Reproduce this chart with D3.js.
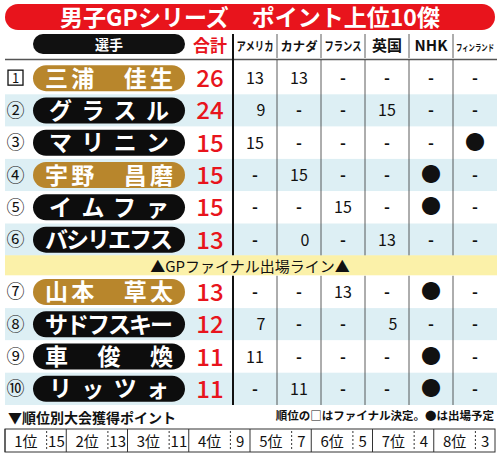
<!DOCTYPE html>
<html><head><meta charset="utf-8">
<script src="https://cdn.jsdelivr.net/npm/d3@7"></script>
<style>body{margin:0;background:#fff}svg{display:block;font-family:"Noto Sans CJK JP","Noto Sans",sans-serif}</style>
</head><body><svg id="c" width="500" height="456"></svg>
<script>
const title = "男子GPシリーズ　ポイント上位10傑";
const events = ["アメリカ","カナダ","フランス","英国","NHK","フィンランド"];
const ranks = ["1","②","③","④","⑤","⑥","⑦","⑧","⑨","⑩"];
const names = ["三浦　佳生","グラスル","マリニン","宇野　昌磨","イムファ","バシリエフス","山本　草太","サドフスキー","車　俊　煥","リッツォ"];
const totals = [26,24,15,15,15,13,13,12,11,11];
const japanese = [true,false,false,true,false,false,true,false,false,false];
const points = [
  ["13","13","-","-","-","-"],
  ["9","-","-","15","-","-"],
  ["15","-","-","-","-","●"],
  ["-","15","-","-","●","-"],
  ["-","-","15","-","●","-"],
  ["-","0","-","13","-","-"],
  ["-","-","13","-","●","-"],
  ["7","-","-","5","-","-"],
  ["11","-","-","-","●","-"],
  ["-","11","-","-","●","-"]
];
const placeLabels = ["1位","2位","3位","4位","5位","6位","7位","8位"];
const placePoints = [15,13,11,9,7,5,4,3];

const svg = d3.select("#c");
const rowH = 32.3;
const rowY = i => 62 + i*rowH + (i>=6 ? 20 : 0);
const x = d3.scaleBand().domain(events).range([233,497]);

svg.append("rect").attr("x",5).attr("y",4).attr("width",490).attr("height",26).attr("rx",13).attr("fill","#e8141c");
svg.append("text").attr("x",250).attr("y",26).attr("text-anchor","middle").attr("font-size",23).attr("font-weight","bold").attr("fill","#fff").text(title);

svg.append("rect").attr("x",33).attr("y",34).attr("width",152).attr("height",20).attr("rx",10).attr("fill","#111");
svg.append("text").attr("x",109).attr("y",50).attr("text-anchor","middle").attr("font-size",14).attr("font-weight","bold").attr("fill","#fff").text("選手");
svg.append("text").attr("x",210).attr("y",52).attr("text-anchor","middle").attr("font-size",17).attr("font-weight","bold").attr("fill","#e8141c").text("合計");
svg.selectAll(".eh").data(events).join("text")
  .attr("x",d=>x(d)+x.bandwidth()/2).attr("y",51).attr("text-anchor","middle")
  .attr("font-weight","bold").attr("fill","#111")
  .attr("font-size",d=>d==="フィンランド"?9:(d==="NHK"||d==="英国"?15:12))
  .attr("textLength",d=>d==="英国"||d==="NHK"?null:(d==="フィンランド"?38:37)).attr("lengthAdjust","spacingAndGlyphs")
  .text(d=>d);
svg.append("line").attr("x1",5).attr("x2",497).attr("y1",59.5).attr("y2",59.5).attr("stroke","#555").attr("stroke-width",1.5);

svg.selectAll(".bg").data(names).join("rect")
  .attr("x",5).attr("width",492).attr("y",(d,i)=>rowY(i)).attr("height",rowH)
  .attr("fill",(d,i)=>i%2===1?"#ddeff4":"#fff");
svg.append("rect").attr("x",5).attr("width",492).attr("y",rowY(6)-20.5).attr("height",20).attr("fill","#fbf1a9");
svg.append("text").attr("x",250).attr("y",rowY(6)-4).attr("text-anchor","middle").attr("font-size",15).attr("fill","#111").text("▲GPファイナル出場ライン▲");

events.slice(1).forEach(e=>{
  [[34,58],[60,rowY(6)-20.5],[rowY(6),rowY(9)+rowH]].forEach(([a,b])=>
   svg.append("line").attr("x1",x(e)).attr("x2",x(e)).attr("y1",a).attr("y2",b).attr("stroke","#333").attr("stroke-width",0.8));
});
[[34,rowY(6)-20.5],[rowY(6),rowY(9)+rowH]].forEach(([a,b])=>
  svg.append("line").attr("x1",233).attr("x2",233).attr("y1",a).attr("y2",b).attr("stroke","#111").attr("stroke-width",2));

const rows = svg.selectAll(".row").data(names).join("g").attr("transform",(d,i)=>`translate(0,${rowY(i)+rowH/2})`);
rows.each(function(d,i){
  const g = d3.select(this);
  if(i===0){
    g.append("rect").attr("x",8).attr("y",-8).attr("width",15).attr("height",15).attr("fill","none").attr("stroke","#111").attr("stroke-width",1.3);
    g.append("text").attr("x",15.5).attr("y",5).attr("text-anchor","middle").attr("font-size",13).attr("fill","#111").text(ranks[i]);
  } else {
    g.append("text").attr("x",15.5).attr("y",6.5).attr("text-anchor","middle").attr("font-size",18).attr("fill","#111").text(ranks[i]);
  }
  g.append("rect").attr("x",33).attr("y",-13).attr("width",152).attr("height",26).attr("rx",13).attr("fill",japanese[i]?"#b8862c":"#0d0d0d");
  g.append("text").attr("x",109).attr("y",8.5).attr("text-anchor","middle").attr("font-size",23).attr("font-weight","bold").attr("fill","#fff")
    .attr("textLength",d.length>=5?128:120).attr("lengthAdjust","spacing").text(d);
  g.append("text").attr("x",210).attr("y",9).attr("text-anchor","middle").attr("font-size",24).attr("font-weight","500").attr("fill","#e8141c").text(totals[i]);
  g.selectAll(".p").data(points[i]).join("text")
    .attr("x",(v,j)=>x(events[j])+x.bandwidth()/2+ (v.length===1&&v!=="●"&&v!=="-"?6:0)).attr("y",(v)=>v==="●"?7:6)
    .attr("text-anchor","middle").attr("font-size",v=>v==="●"?20:16).attr("font-weight",v=>v==="-"?"bold":"normal").attr("fill","#111").text(v=>v);
});

svg.append("text").attr("x",8).attr("y",423).attr("font-size",14).attr("font-weight","bold").attr("fill","#111").text("▼順位別大会獲得ポイント");
svg.append("text").attr("x",494).attr("y",420).attr("text-anchor","end").attr("font-size",11.5).attr("font-weight","bold").attr("fill","#111").text("順位の□はファイナル決定。●は出場予定");
const fx = d3.scaleBand().domain(placeLabels).range([5,495]);
svg.append("rect").attr("x",5).attr("y",429).attr("width",490).attr("height",23).attr("fill","#fff").attr("stroke","#333").attr("stroke-width",1);
const cells = svg.selectAll(".fc").data(placeLabels).join("g").attr("transform",d=>`translate(${fx(d)},429)`);
cells.append("line").attr("x1",0).attr("x2",0).attr("y1",0).attr("y2",23).attr("stroke","#333");
cells.append("line").attr("x1",fx.bandwidth()*0.68).attr("x2",fx.bandwidth()*0.68).attr("y1",2).attr("y2",21).attr("stroke","#333").attr("stroke-dasharray","2,2");
cells.append("text").attr("x",fx.bandwidth()*0.34).attr("y",18).attr("text-anchor","middle").attr("font-size",15).attr("fill","#111").text(d=>d);
cells.append("text").attr("x",fx.bandwidth()*0.84).attr("y",18).attr("text-anchor","middle").attr("font-size",15).attr("fill","#111").text((d,i)=>placePoints[i]);
</script></body></html>
